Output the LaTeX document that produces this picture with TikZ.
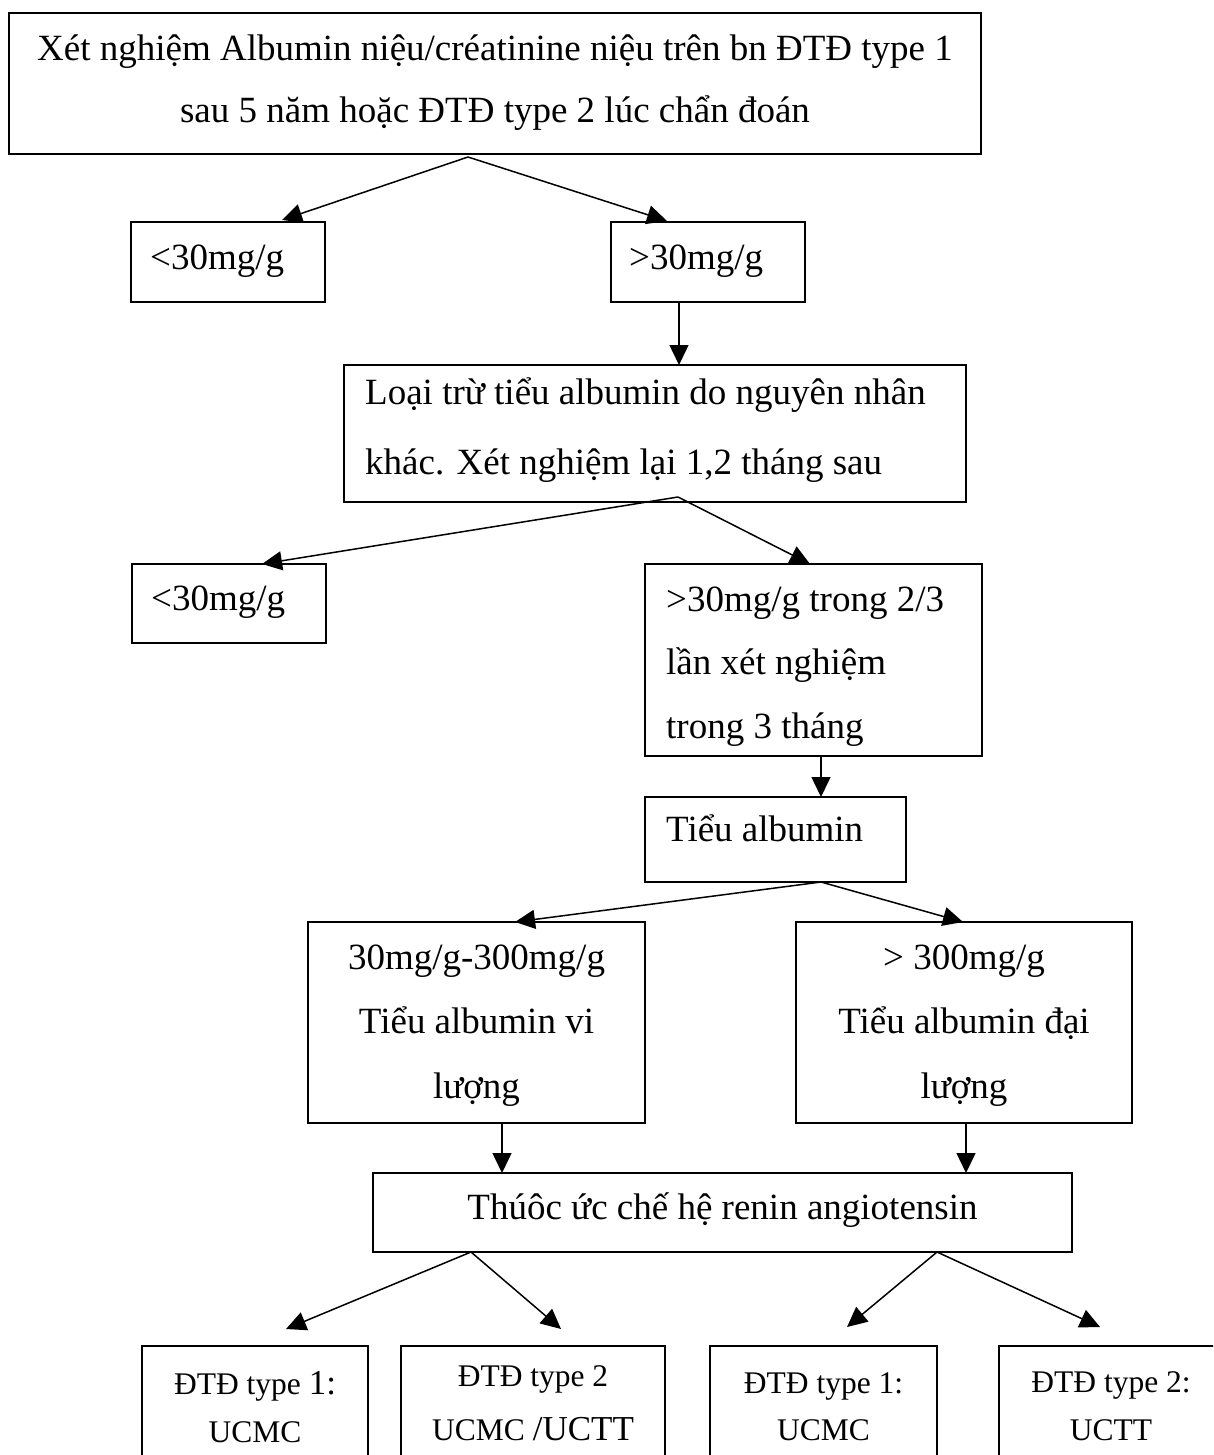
\documentclass[tikz,border=0pt]{standalone}
\usepackage{fontspec}
\setmainfont{Liberation Serif}
\usetikzlibrary{arrows.meta}
\newcommand{\bigsz}{\fontsize{37}{44}\selectfont}
\tikzset{
  box/.style={draw, line width=1.6pt, inner sep=0pt, outer sep=0pt, rectangle},
  txt/.style={inner sep=0pt, font=\bigsz},
  stxt/.style={inner sep=0pt, font=\fontsize{31.5}{38}\selectfont},
  arr/.style={line width=1.5pt, -{Triangle[length=20pt,width=19pt]}},
}
\begin{document}
\begin{tikzpicture}[x=1pt,y=-1pt]
\useasboundingbox (0,0) rectangle (1213,1455);
\begin{scope}
\clip (0,0) rectangle (1213,1455);
% boxes
\node[box, minimum width=972pt, minimum height=141pt] (top) at (495,83.5) {};
\node[box, minimum width=194pt, minimum height=80pt] (lt1) at (228,262) {};
\node[box, minimum width=194pt, minimum height=80pt] (gt1) at (708,262) {};
\node[box, minimum width=622pt, minimum height=137pt] (excl) at (655,433.5) {};
\node[box, minimum width=194pt, minimum height=79pt] (lt2) at (229,603.5) {};
\node[box, minimum width=337pt, minimum height=192pt] (gt2) at (813.5,660) {};
\node[box, minimum width=261pt, minimum height=85pt] (micro) at (775.5,839.5) {};
\node[box, minimum width=337pt, minimum height=201pt] (mid) at (476.5,1022.5) {};
\node[box, minimum width=336pt, minimum height=201pt] (mac) at (964,1022.5) {};
\node[box, minimum width=699pt, minimum height=79pt] (drug) at (722.5,1212.5) {};
\node[box, minimum width=226pt, minimum height=154pt] (b1) at (255,1423) {};
\node[box, minimum width=264pt, minimum height=154pt] (b2) at (533,1423) {};
\node[box, minimum width=227pt, minimum height=154pt] (b3) at (823.5,1423) {};
\node[box, minimum width=224pt, minimum height=154pt] (b4) at (1111,1423) {};
% texts
\node[txt, anchor=mid] (t0a) at (495,58) {Xét nghiệm Albumin niệu/créatinine niệu trên bn ĐTĐ type 1};
\node[txt, anchor=mid] (t0b) at (495,120) {sau 5 năm hoặc ĐTĐ type 2 lúc chẩn đoán};
\node[txt, anchor=mid west] (t1) at (150,267) {<30mg/g};
\node[txt, anchor=mid west] (t2) at (629,267) {>30mg/g};
\node[txt, anchor=mid west] (t3a) at (365,402) {Loại trừ tiểu albumin do nguyên nhân};
\node[txt, anchor=mid west] (t3b) at (365,472) {khác. Xét nghiệm lại 1,2 tháng sau};
\node[txt, anchor=mid west] (t4) at (151,608) {<30mg/g};
\node[txt, anchor=mid west] (t5a) at (666,609) {>30mg/g trong 2/3};
\node[txt, anchor=mid west] (t5b) at (666,672) {lần xét nghiệm};
\node[txt, anchor=mid west] (t5c) at (666,736) {trong 3 tháng};
\node[txt, anchor=mid west] (t6) at (666,839) {Tiểu albumin};
\node[txt, anchor=mid] (t7a) at (476.5,967) {30mg/g-300mg/g};
\node[txt, anchor=mid] (t7b) at (476.5,1031) {Tiểu albumin vi};
\node[txt, anchor=mid] (t7c) at (476.5,1096) {lượng};
\node[txt, anchor=mid] (t8a) at (964,967) {> 300mg/g};
\node[txt, anchor=mid] (t8b) at (964,1031) {Tiểu albumin đại};
\node[txt, anchor=mid] (t8c) at (964,1096) {lượng};
\node[txt, anchor=mid] (t9) at (722.5,1217) {Thúôc ức chế hệ renin angiotensin};
\node[stxt, anchor=mid] (t10a) at (255,1392) {ĐTĐ type {\fontsize{35}{40}\selectfont 1:}};
\node[stxt, anchor=mid] (t10b) at (255,1440) {UCMC};
\node[stxt, anchor=mid] (t11a) at (533,1384) {ĐTĐ type 2};
\node[stxt, anchor=mid] (t11b) at (533,1438) {UCMC {\fontsize{35}{40}\selectfont /UCTT}};
\node[stxt, anchor=mid] (t12a) at (823.5,1391) {ĐTĐ type 1:};
\node[stxt, anchor=mid] (t12b) at (823.5,1438) {UCMC};
\node[stxt, anchor=mid] (t13a) at (1111,1390) {ĐTĐ type 2:};
\node[stxt, anchor=mid] (t13b) at (1111,1438) {UCTT};
\end{scope}
% connectors
\draw[arr] ([xshift=-27pt,yshift=-3pt]top.south) -- ([xshift=54pt,yshift=2pt]lt1.north);
\draw[arr] ([xshift=-27pt,yshift=-3pt]top.south) -- ([xshift=-41pt,yshift=1pt]gt1.north);
\draw[arr] ([xshift=-29pt]gt1.south) -- ([xshift=24pt]excl.north);
\draw[arr] ([xshift=23pt,yshift=5pt]excl.south) -- ([xshift=33pt]lt2.north);
\draw[arr] ([xshift=23pt,yshift=5pt]excl.south) -- ([xshift=-3.5pt]gt2.north);
\draw[arr] ([xshift=7.5pt]gt2.south) -- ([xshift=45.5pt]micro.north);
\draw[arr] ([xshift=45.5pt]micro.south) -- ([xshift=38.5pt]mid.north);
\draw[arr] ([xshift=45.5pt]micro.south) -- ([xshift=-1pt]mac.north);
\draw[arr] ([xshift=25.5pt]mid.south) -- ([xshift=-220.5pt]drug.north);
\draw[arr] ([xshift=2pt]mac.south) -- ([xshift=243.5pt]drug.north);
\draw[arr] ([xshift=-251.5pt]drug.south) -- ([xshift=31pt,yshift=17pt]b1.north);
\draw[arr] ([xshift=-251.5pt]drug.south) -- ([xshift=28pt,yshift=17pt]b2.north);
\draw[arr] ([xshift=214.5pt]drug.south) -- ([xshift=23.5pt,yshift=19pt]b3.north);
\draw[arr] ([xshift=214.5pt]drug.south) -- ([xshift=-11pt,yshift=19pt]b4.north);
\end{tikzpicture}
\end{document}
